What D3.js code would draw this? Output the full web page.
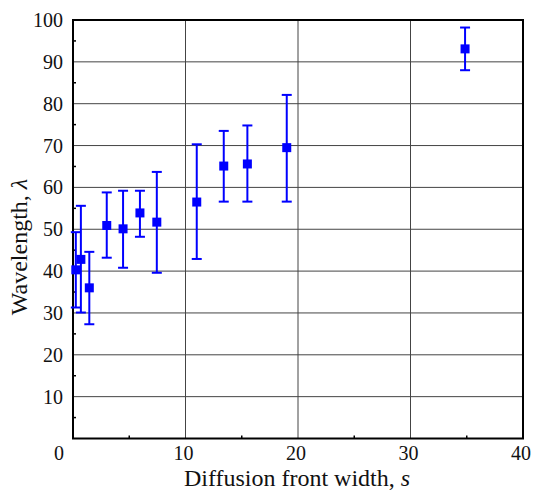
<!DOCTYPE html>
<html>
<head>
<meta charset="utf-8">
<script src="https://d3js.org/d3.v7.js"></script>
<style>
  html, body { margin: 0; padding: 0; background: #fff; }
</style>
</head>
<body>
<svg id="chart" width="535" height="492" font-family="'Liberation Serif', 'Times New Roman', Times, 'DejaVu Serif', serif"></svg>
<script>
    // front width s, wavelength λ, and error bar ends
    const frontWidth = [0.25, 0.7, 1.45, 3.0, 4.45, 5.95, 7.45, 11.0, 13.4, 15.5, 19.0, 34.85];
    const wavelength = [40.3, 42.8, 36.0, 50.9, 50.1, 53.9, 51.7, 56.5, 65.1, 65.6, 69.5, 93.1];
    const errLow = [31.3, 30.1, 27.3, 43.2, 40.8, 48.2, 39.6, 42.9, 56.6, 56.6, 56.6, 88.0];
    const errHigh = [49.3, 55.6, 44.6, 58.8, 59.2, 59.2, 63.7, 70.3, 73.5, 74.8, 82.1, 98.2];

    const xTicks = [10, 20, 30, 40];
    const yTicks = [10, 20, 30, 40, 50, 60, 70, 80, 90, 100];
    const xMinor = [5, 15, 25, 35];
    const yMinor = [5, 15, 25, 35, 45, 55, 65, 75, 85, 95];

    const points = frontWidth.map((s, i) => ({s, l: wavelength[i], lo: errLow[i], hi: errHigh[i]}));

    const plotL = 73, plotR = 523, plotT = 20, plotB = 438.5;
    const x = d3.scaleLinear().domain([0, 40]).range([plotL, plotR]);
    const y = d3.scaleLinear().domain([0, 100]).range([plotB, plotT]);

    const svg = d3.select('#chart');

    // grid
    svg.append('g')
        .selectAll('line')
        .data(xTicks.slice(0, -1))
        .join('line')
        .attr('x1', d => x(d)).attr('x2', d => x(d))
        .attr('y1', plotT).attr('y2', plotB)
        .attr('stroke', '#444').attr('stroke-width', 1);

    svg.append('g')
        .selectAll('line')
        .data(yTicks.slice(0, -1))
        .join('line')
        .attr('x1', plotL).attr('x2', plotR)
        .attr('y1', d => y(d)).attr('y2', d => y(d))
        .attr('stroke', '#444').attr('stroke-width', 1);

    // minor ticks (inward)
    svg.append('g')
        .selectAll('line')
        .data(yMinor)
        .join('line')
        .attr('x1', plotL).attr('x2', plotL + 3)
        .attr('y1', d => y(d)).attr('y2', d => y(d))
        .attr('stroke', '#000').attr('stroke-width', 1.5);

    svg.append('g')
        .selectAll('line')
        .data(xMinor)
        .join('line')
        .attr('x1', d => x(d)).attr('x2', d => x(d))
        .attr('y1', plotB).attr('y2', plotB - 3)
        .attr('stroke', '#000').attr('stroke-width', 1.5);

    // frame
    svg.append('rect')
        .attr('x', plotL).attr('y', plotT)
        .attr('width', plotR - plotL).attr('height', plotB - plotT)
        .attr('fill', 'none').attr('stroke', '#000').attr('stroke-width', 2);

    // tick labels
    svg.append('g')
        .selectAll('text')
        .data(yTicks)
        .join('text')
        .attr('x', 63).attr('y', d => y(d))
        .attr('dy', '0.35em')
        .attr('text-anchor', 'end')
        .attr('font-size', 20)
        .attr('fill', '#111')
        .text(d => d);

    svg.append('g')
        .selectAll('text')
        .data([0, ...xTicks])
        .join('text')
        .attr('x', d => d === 0 ? 59 : x(d) - 2)
        .attr('y', 459.5)
        .attr('text-anchor', 'middle')
        .attr('font-size', 20)
        .attr('fill', '#111')
        .text(d => d);

    // axis titles
    svg.append('text')
        .attr('x', 297).attr('y', 486)
        .attr('text-anchor', 'middle')
        .attr('font-size', 24)
        .attr('fill', '#111')
        .html('Diffusion front width, <tspan font-style="italic">s</tspan>');

    svg.append('text')
        .attr('transform', 'translate(27,247) rotate(-90)')
        .attr('text-anchor', 'middle')
        .attr('font-size', 24)
        .attr('fill', '#111')
        .html('Wavelength, <tspan font-style="italic">λ</tspan>');

    // error bars
    const blue = '#0000ff';
    const bars = svg.append('g').attr('stroke', blue).attr('stroke-width', 2);
    bars.selectAll('line.v')
        .data(points)
        .join('line')
        .attr('class', 'v')
        .attr('x1', d => x(d.s)).attr('x2', d => x(d.s))
        .attr('y1', d => y(d.lo)).attr('y2', d => y(d.hi));
    bars.selectAll('line.lo')
        .data(points)
        .join('line')
        .attr('class', 'lo')
        .attr('x1', d => x(d.s) - 5).attr('x2', d => x(d.s) + 5)
        .attr('y1', d => y(d.lo)).attr('y2', d => y(d.lo));
    bars.selectAll('line.hi')
        .data(points)
        .join('line')
        .attr('class', 'hi')
        .attr('x1', d => x(d.s) - 5).attr('x2', d => x(d.s) + 5)
        .attr('y1', d => y(d.hi)).attr('y2', d => y(d.hi));

    // markers
    svg.append('g')
        .selectAll('rect')
        .data(points)
        .join('rect')
        .attr('x', d => x(d.s) - 4.5)
        .attr('y', d => y(d.l) - 4.5)
        .attr('width', 9).attr('height', 9)
        .attr('fill', blue);
</script>
</body>
</html>
